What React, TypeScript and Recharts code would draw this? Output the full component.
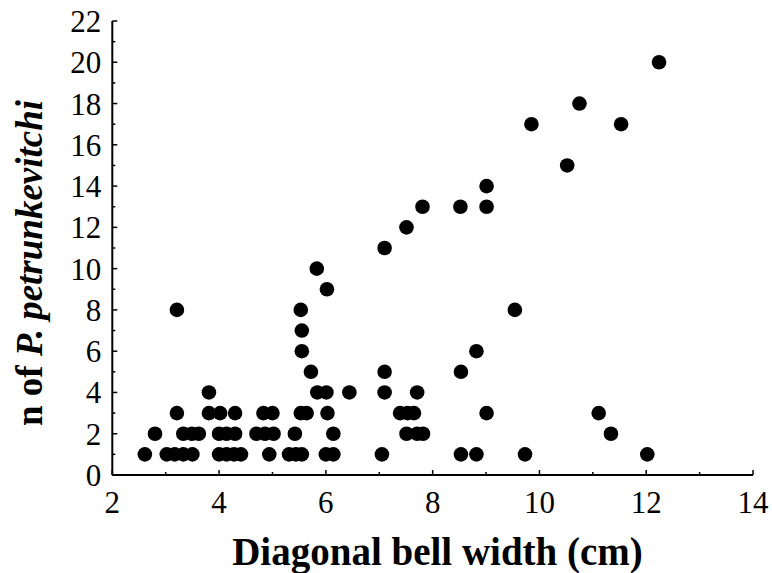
import React from "react";
import { ScatterChart, Scatter, XAxis, YAxis } from "recharts";

if (typeof document !== "undefined") {
  document.body.style.margin = "0";
}

const xTicks = [2, 3, 4, 5, 6, 7, 8, 9, 10, 11, 12, 13, 14];
const yTicks = [0, 1, 2, 3, 4, 5, 6, 7, 8, 9, 10, 11, 12, 13, 14, 15, 16, 17, 18, 19, 20, 21, 22];

const widthsN1 = [2.61, 3.02, 3.17, 3.33, 3.5, 4.0, 4.14, 4.28, 4.41, 4.94, 5.31, 5.44, 5.55, 6.0, 6.14, 7.05, 8.53, 8.82, 9.73, 12.02];
const widthsN2 = [2.8, 3.33, 3.49, 3.62, 4.0, 4.14, 4.3, 4.7, 4.86, 5.02, 5.42, 6.14, 7.51, 7.71, 7.82, 11.34];
const widthsN3 = [3.21, 3.81, 4.02, 4.3, 4.83, 5.0, 5.53, 5.64, 6.03, 7.39, 7.53, 7.65, 9.01, 11.11];
const widthsN4 = [3.81, 5.84, 6.01, 6.44, 7.1, 7.71];
const widthsN5 = [5.72, 7.1, 8.53];
const widthsN6 = [5.55, 8.82];
const widthsN7 = [5.55];
const widthsN8 = [3.21, 5.53, 9.54];
const widthsN9 = [6.02];
const widthsN10 = [5.83];
const widthsN11 = [7.1];
const widthsN12 = [7.51];
const widthsN13 = [7.81, 8.52, 9.01];
const widthsN14 = [9.01];
const widthsN15 = [10.52];
const widthsN17 = [9.85, 11.53];
const widthsN18 = [10.75];
const widthsN20 = [12.24];

const groups: [number, number[]][] = [
  [1, widthsN1], [2, widthsN2], [3, widthsN3], [4, widthsN4], [5, widthsN5],
  [6, widthsN6], [7, widthsN7], [8, widthsN8], [9, widthsN9], [10, widthsN10],
  [11, widthsN11], [12, widthsN12], [13, widthsN13], [14, widthsN14], [15, widthsN15],
  [17, widthsN17], [18, widthsN18], [20, widthsN20],
];
const points = groups.flatMap(([n, ws]) => ws.map((w) => ({ w, n })));

const FONT = "'Liberation Serif', 'Times New Roman', serif";

const BottomTick = (props: any) => {
  const { x, y, payload } = props;
  const v = payload.value;
  const major = v % 2 === 0;
  return (
    <g>
      <line x1={x} x2={x} y1={y} y2={y - (major ? 5 : 3)} stroke="#000" strokeWidth={1.5} />
      {major && (
        <text x={x} y={y + 38} textAnchor="middle" fontFamily={FONT} fontSize={31} fill="#000">
          {String(v)}
        </text>
      )}
    </g>
  );
};

const TopTick = (props: any) => {
  const { x, y, payload } = props;
  const major = payload.value % 2 === 0;
  return <line x1={x} x2={x} y1={y} y2={y + (major ? 5 : 3)} stroke="#000" strokeWidth={1.5} />;
};

const LeftTick = (props: any) => {
  const { x, y, payload } = props;
  const v = payload.value;
  const major = v % 2 === 0;
  return (
    <g>
      <line x1={x} x2={x + (major ? 5 : 3)} y1={y} y2={y} stroke="#000" strokeWidth={1.5} />
      {major && (
        <text x={x - 11} y={y + 11} textAnchor="end" fontFamily={FONT} fontSize={31} fill="#000">
          {String(v)}
        </text>
      )}
    </g>
  );
};

const RightTick = (props: any) => {
  const { x, y, payload } = props;
  const major = payload.value % 2 === 0;
  return <line x1={x} x2={x - (major ? 5 : 3)} y1={y} y2={y} stroke="#000" strokeWidth={1.5} />;
};

const Dot = (props: any) => <circle cx={props.cx} cy={props.cy} r={7.3} fill="#000" />;

export default function App() {
  return (
    <div
      style={{
        position: "relative",
        width: 772,
        height: 573,
        overflow: "hidden",
        fontFamily: FONT,
      }}
    >
      <ScatterChart width={772} height={573} margin={{ top: 21, right: 19, bottom: 0, left: 0 }}>
        <XAxis
          xAxisId="b"
          type="number"
          dataKey="w"
          domain={[2, 14]}
          ticks={xTicks}
          interval={0}
          height={98}
          tickSize={0}
          tickMargin={0}
          tickLine={false}
          axisLine={{ stroke: "#000", strokeWidth: 2 }}
          tick={<BottomTick />}
          allowDataOverflow
        />
        <XAxis
          xAxisId="t"
          orientation="top"
          type="number"
          dataKey="w"
          domain={[2, 14]}
          ticks={xTicks}
          interval={0}
          height={0}
          tickSize={0}
          tickMargin={0}
          tickLine={false}
          axisLine={{ stroke: "#000", strokeWidth: 2 }}
          tick={<TopTick />}
          allowDataOverflow
        />
        <YAxis
          yAxisId="l"
          type="number"
          dataKey="n"
          domain={[0, 22]}
          ticks={yTicks}
          interval={0}
          width={112.3}
          tickSize={0}
          tickMargin={0}
          tickLine={false}
          axisLine={{ stroke: "#000", strokeWidth: 2 }}
          tick={<LeftTick />}
          allowDataOverflow
        />
        <YAxis
          yAxisId="r"
          orientation="right"
          type="number"
          dataKey="n"
          domain={[0, 22]}
          ticks={yTicks}
          interval={0}
          width={0}
          tickSize={0}
          tickMargin={0}
          tickLine={false}
          axisLine={{ stroke: "#000", strokeWidth: 2 }}
          tick={<RightTick />}
          allowDataOverflow
        />
        <Scatter data={points} xAxisId="b" yAxisId="l" shape={<Dot />} isAnimationActive={false} />
      </ScatterChart>
      <div
        style={{
          position: "absolute",
          left: 137.5,
          top: 531,
          width: 600,
          textAlign: "center",
          fontFamily: FONT,
          fontWeight: "bold",
          fontSize: 39,
          lineHeight: "42px",
          whiteSpace: "nowrap",
        }}
      >
        Diagonal bell width (cm)
      </div>
      <div
        style={{
          position: "absolute",
          left: 29.5 - 200,
          top: 262.5 - 20,
          width: 400,
          height: 40,
          lineHeight: "40px",
          textAlign: "center",
          transform: "rotate(-90deg)",
          fontFamily: FONT,
          fontWeight: "bold",
          fontSize: 37,
          whiteSpace: "nowrap",
        }}
      >
        n of <i>P. petrunkevitchi</i>
      </div>
    </div>
  );
}
